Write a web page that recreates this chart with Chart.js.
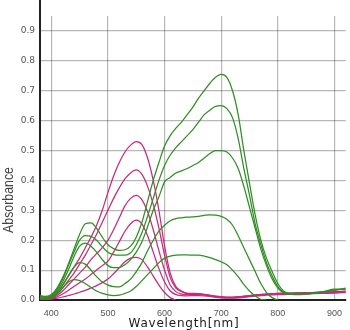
<!DOCTYPE html>
<html>
<head>
<meta charset="utf-8">
<title>Absorbance spectra</title>
<script src="https://cdn.jsdelivr.net/npm/chart.js@4.4.1/dist/chart.umd.min.js"></script>
<style>
    body { margin: 0; background: #fff; }
    #wrap { width: 350px; height: 330px; position: relative; }
</style>
</head>
<body>
<div id="wrap"><canvas id="spectraChart"></canvas></div>
<script>
// =======================
// DATA
// =======================
let wavelengths = [380, 390, 400, 410, 420, 430, 440, 450, 460, 470,
    480, 490, 500, 510, 520, 530, 540, 550, 560, 570,
    580, 590, 600, 610, 620, 630, 640, 650, 660, 670,
    680, 690, 700, 710, 720, 730, 740, 750, 760, 770,
    780, 790, 800, 810, 820, 840, 860, 880, 900, 920];

// green spectra (highest red peak first)
let green1 = [0.015, 0.012, 0.018, 0.04, 0.075, 0.12, 0.17, 0.22, 0.255, 0.258,
    0.24, 0.21, 0.185, 0.172, 0.166, 0.168, 0.18, 0.21, 0.26, 0.33,
    0.40, 0.46, 0.515, 0.55, 0.575, 0.595, 0.62, 0.645, 0.675, 0.70,
    0.725, 0.745, 0.755, 0.745, 0.70, 0.62, 0.50, 0.39, 0.285, 0.20,
    0.14, 0.095, 0.055, 0.03, 0.022, 0.02, 0.023, 0.028, 0.036, 0.035];
let green2 = [0.012, 0.01, 0.015, 0.035, 0.07, 0.115, 0.16, 0.2, 0.215, 0.213,
    0.2, 0.178, 0.16, 0.152, 0.15, 0.15, 0.158, 0.185, 0.225, 0.28,
    0.34, 0.40, 0.45, 0.485, 0.51, 0.53, 0.55, 0.57, 0.595, 0.62,
    0.635, 0.648, 0.65, 0.64, 0.61, 0.54, 0.44, 0.35, 0.255, 0.185,
    0.125, 0.08, 0.045, 0.027, 0.021, 0.019, 0.022, 0.027, 0.034, 0.037];
let green3 = [0.01, 0.008, 0.012, 0.03, 0.06, 0.1, 0.145, 0.18, 0.19, 0.18,
    0.16, 0.135, 0.115, 0.108, 0.108, 0.118, 0.135, 0.16, 0.195, 0.245,
    0.30, 0.345, 0.395, 0.41, 0.425, 0.432, 0.44, 0.45, 0.46, 0.475,
    0.49, 0.50, 0.50, 0.495, 0.475, 0.44, 0.38, 0.31, 0.24, 0.17,
    0.115, 0.07, 0.04, 0.024, 0.02, 0.018, 0.021, 0.026, 0.032, 0.04];
let green4 = [0.008, 0.006, 0.01, 0.025, 0.05, 0.08, 0.11, 0.125, 0.12, 0.1,
    0.078, 0.06, 0.05, 0.045, 0.044, 0.055, 0.07, 0.095, 0.125, 0.165,
    0.20, 0.23, 0.25, 0.265, 0.272, 0.275, 0.277, 0.278, 0.28, 0.283,
    0.285, 0.284, 0.28, 0.27, 0.25, 0.215, 0.175, 0.135, 0.095, 0.055,
    0.025, 0.008, 0.0, null, null, null, null, null, null, null];
let green5 = [0.005, 0.004, 0.008, 0.02, 0.04, 0.06, 0.068, 0.065, 0.055, 0.042,
    0.03, 0.022, 0.017, 0.015, 0.016, 0.022, 0.03, 0.045, 0.065, 0.085,
    0.105, 0.125, 0.14, 0.147, 0.15, 0.151, 0.151, 0.15, 0.15, 0.147,
    0.142, 0.135, 0.128, 0.118, 0.10, 0.078, 0.052, 0.03, 0.013, 0.002,
    0.0, null, null, null, null, null, null, null, null, null];

// magenta spectra (highest green peak first)
let magenta1 = [0.005, 0.003, 0.008, 0.025, 0.05, 0.08, 0.11, 0.14, 0.175, 0.21,
    0.25, 0.30, 0.36, 0.415, 0.46, 0.495, 0.518, 0.53, 0.52, 0.475,
    0.40, 0.30, 0.18, 0.09, 0.045, 0.03, 0.022, 0.021, 0.02, 0.018,
    0.015, 0.012, 0.01, 0.009, 0.009, 0.01, 0.012, 0.014, 0.016, 0.018,
    0.02, 0.021, 0.022, 0.022, 0.023, 0.024, 0.025, 0.026, 0.028, 0.03];
let magenta2 = [0.005, 0.003, 0.006, 0.02, 0.04, 0.065, 0.09, 0.12, 0.15, 0.185,
    0.22, 0.26, 0.30, 0.34, 0.375, 0.405, 0.425, 0.435, 0.42, 0.38,
    0.32, 0.24, 0.15, 0.075, 0.04, 0.028, 0.022, 0.022, 0.021, 0.019,
    0.016, 0.013, 0.011, 0.01, 0.01, 0.011, 0.013, 0.015, 0.017, 0.019,
    0.02, 0.021, 0.022, 0.023, 0.023, 0.024, 0.025, 0.026, 0.027, 0.028];
let magenta3 = [0.004, 0.002, 0.005, 0.015, 0.03, 0.05, 0.07, 0.09, 0.11, 0.135,
    0.155, 0.175, 0.20, 0.235, 0.275, 0.315, 0.34, 0.35, 0.335, 0.295,
    0.235, 0.165, 0.10, 0.05, 0.028, 0.02, 0.018, 0.019, 0.019, 0.017,
    0.014, 0.011, 0.009, 0.008, 0.008, 0.009, 0.011, 0.013, 0.015, 0.017,
    0.019, 0.02, 0.02, 0.02, 0.021, 0.022, 0.022, 0.023, 0.025, 0.026];
let magenta4 = [0.003, 0.002, 0.004, 0.01, 0.02, 0.032, 0.045, 0.058, 0.07, 0.085,
    0.10, 0.115, 0.13, 0.16, 0.195, 0.23, 0.255, 0.267, 0.255, 0.215,
    0.16, 0.105, 0.06, 0.03, 0.018, 0.015, 0.014, 0.015, 0.015, 0.014,
    0.012, 0.009, 0.007, 0.006, 0.006, 0.007, 0.009, 0.011, 0.013, 0.015,
    0.016, 0.017, 0.018, 0.018, 0.019, 0.02, 0.021, 0.022, 0.023, 0.025];
let magenta5 = [0.003, 0.002, 0.003, 0.006, 0.01, 0.015, 0.02, 0.026, 0.032, 0.04,
    0.048, 0.058, 0.07, 0.088, 0.108, 0.128, 0.14, 0.143, 0.135, 0.11,
    0.08, 0.05, 0.025, 0.008, 0.0, null, null, null, null, null,
    null, null, null, null, null, null, null, null, null, null,
    null, null, null, null, null, null, null, null, null, null];

let xTicks = [400, 500, 600, 700, 800, 900];
let yTicks = [0, 0.1, 0.2, 0.3, 0.4, 0.5, 0.6, 0.7, 0.8, 0.9];
let xTitle = "Wavelength[nm]";
let yTitle = "Absorbance";

// =======================
// STYLE
// =======================
let greenColor = "#2f8f22";
let magentaColor = "#c62a7e";

function makeSeries(values, color) {
    return {
        data: wavelengths.map((w, i) => ({ x: w, y: values[i] })),
        borderColor: color,
        borderWidth: 1.25,
        pointRadius: 0,
        fill: false,
        cubicInterpolationMode: "monotone",
        spanGaps: false
    };
}

// axis titles and the y axis line running up past the plot
let axisExtras = {
    id: "axisExtras",
    afterDraw(chart) {
        let ctx = chart.ctx;
        let area = chart.chartArea;
        ctx.save();
        ctx.strokeStyle = "#222";
        ctx.lineWidth = 2;
        ctx.beginPath();
        ctx.moveTo(area.left, 0);
        ctx.lineTo(area.left, area.top);
        ctx.stroke();

        ctx.fillStyle = "#1a1a1a";
        ctx.textAlign = "center";
        ctx.textBaseline = "alphabetic";
        ctx.font = '12px "DejaVu Sans"';
        ctx.letterSpacing = "0.8px";
        ctx.fillText(xTitle, 184, 327);

        ctx.letterSpacing = "0px";
        ctx.fillStyle = "#444";
        ctx.font = '15px "Liberation Sans"';
        ctx.translate(13, 200);
        ctx.rotate(-Math.PI / 2);
        ctx.fillText(yTitle, 0, 0, 66);
        ctx.restore();
    }
};

// =======================
// CHART
// =======================
let spectraChart = new Chart(document.getElementById("spectraChart"), {
    type: "line",
    data: {
        datasets: [
            makeSeries(green1, greenColor),
            makeSeries(green2, greenColor),
            makeSeries(green3, greenColor),
            makeSeries(green4, greenColor),
            makeSeries(green5, greenColor),
            makeSeries(magenta1, magentaColor),
            makeSeries(magenta2, magentaColor),
            makeSeries(magenta3, magentaColor),
            makeSeries(magenta4, magentaColor),
            makeSeries(magenta5, magentaColor)
        ]
    },
    options: {
        responsive: true,
        maintainAspectRatio: false,
        animation: false,
        layout: { padding: { top: 16, right: 1, left: 0, bottom: 0 } },
        plugins: {
            legend: { display: false },
            tooltip: { enabled: false }
        },
        scales: {
            x: {
                type: "linear",
                min: 380,
                max: 920,
                afterBuildTicks: scale => { scale.ticks = xTicks.map(v => ({ value: v })); },
                afterFit: scale => { scale.height = 30; },
                grid: { color: "rgba(0,0,0,0.28)", lineWidth: 1.2, drawTicks: false },
                border: { color: "#222", width: 2 },
                ticks: {
                    color: "#555",
                    padding: 8,
                    font: { family: "Liberation Sans", size: 9 },
                    callback: v => String(v)
                }
            },
            y: {
                type: "linear",
                min: 0,
                max: 0.95,
                afterBuildTicks: scale => { scale.ticks = yTicks.map(v => ({ value: v })); },
                afterFit: scale => { scale.width = 40; },
                grid: { color: "rgba(0,0,0,0.28)", lineWidth: 1.2, drawTicks: false },
                border: { color: "#222", width: 2 },
                ticks: {
                    color: "#555",
                    padding: 5,
                    font: { family: "DejaVu Sans", size: 9 },
                    callback: v => v.toFixed(1)
                }
            }
        }
    },
    plugins: [axisExtras]
});
</script>
</body>
</html>
